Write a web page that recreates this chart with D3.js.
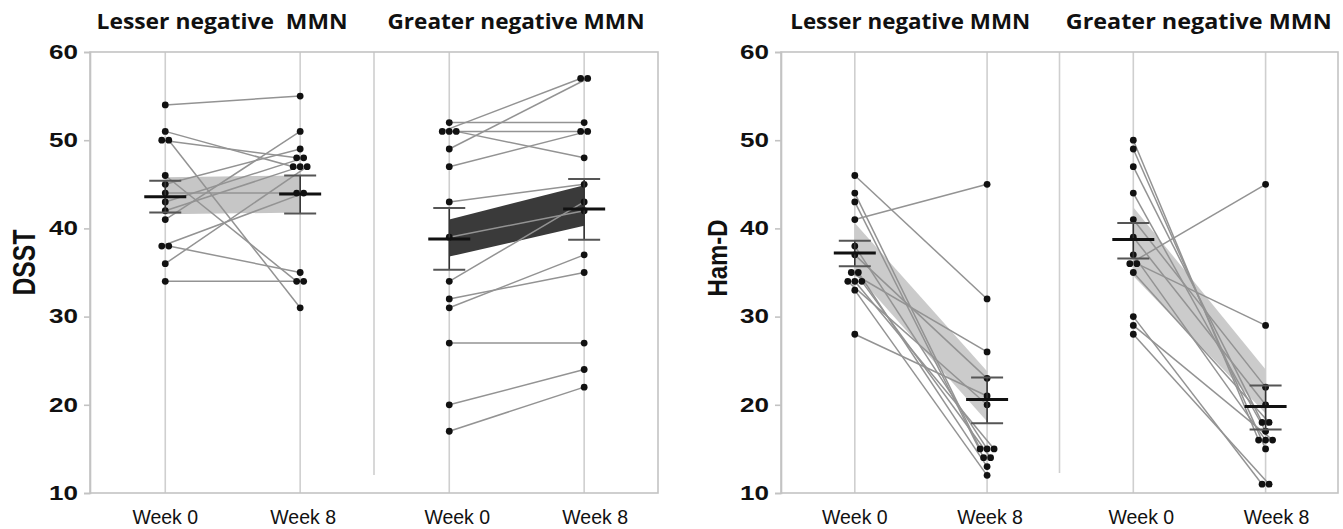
<!DOCTYPE html>
<html>
<head>
<meta charset="utf-8">
<script src="https://cdn.jsdelivr.net/npm/d3@7"></script>
<style>
  html, body { margin: 0; padding: 0; background: #fff; }
  svg { display: block; }
</style>
</head>
<body>
<div id="chart"></div>
<script>
/* Paired week 0 -> week 8 scores, split by MMN group.
   Same index in a W0/W8 pair of arrays = same subject. */

const weeks  = ["Week 0", "Week 8"];
const yTicks = [10, 20, 30, 40, 50, 60];

const dsstTitles = ["Lesser negative  MMN", "Greater negative MMN"];
const hamdTitles = ["Lesser negative MMN", "Greater negative MMN"];

// DSST
const dsstLesserW0  = [54, 51, 50, 50, 46, 45, 44, 43, 42, 41, 38, 38, 36, 34];
const dsstLesserW8  = [55, 47, 48, 31, 34, 49, 44, 48, 47, 51, 44, 35, 47, 34];
const dsstGreaterW0 = [52, 51, 49, 51, 51, 47, 43, 39, 34, 32, 31, 27, 20, 17];
const dsstGreaterW8 = [52, 57, 57, 51, 48, 51, 45, 42, 43, 35, 37, 27, 24, 22];

// Ham-D
const hamdLesserW0  = [46, 44, 43, 41, 38, 37, 35, 35, 34, 34, 34, 33, 28];
const hamdLesserW8  = [32, 15, 14, 45, 15, 23, 26, 13, 20, 15, 14, 12, 21];
const hamdGreaterW0 = [50, 49, 47, 44, 41, 39, 37, 36, 36, 35, 30, 29, 28];
const hamdGreaterW8 = [16, 15, 18, 17, 22, 20, 16, 45, 29, 18, 11, 16, 11];

// group summaries, [week 0, week 8]
const dsstLesserMean   = [43.6, 43.9];
const dsstLesserErrLo  = [41.8, 41.7];
const dsstLesserErrHi  = [45.4, 46.0];
const dsstLesserBandLo = [41.6, 41.8];
const dsstLesserBandHi = [45.8, 46.0];

const dsstGreaterMean   = [38.8, 42.2];
const dsstGreaterErrLo  = [35.3, 38.7];
const dsstGreaterErrHi  = [42.3, 45.6];
const dsstGreaterBandLo = [36.8, 40.3];
const dsstGreaterBandHi = [41.0, 44.9];

const hamdLesserMean   = [37.2, 20.6];
const hamdLesserErrLo  = [35.7, 17.9];
const hamdLesserErrHi  = [38.6, 23.1];
const hamdLesserBandLo = [35.0, 18.1];
const hamdLesserBandHi = [40.6, 23.8];

const hamdGreaterMean   = [38.75, 19.8];
const hamdGreaterErrLo  = [36.6, 17.2];
const hamdGreaterErrHi  = [40.6, 22.2];
const hamdGreaterBandLo = [34.6, 19.0];
const hamdGreaterBandHi = [42.4, 24.0];

function grp(w0, w8, mean, errLo, errHi, bandLo, bandHi, bandFill) {
  return { w0, w8, mean, errLo, errHi, bandLo, bandHi, bandFill };
}

const panels = [
  {
    label: "DSST", titles: dsstTitles, left: 90, width: 568, sepBottom: 475,
    labelX: 23.5, labelY: 262.5, labelSize: 31, labelLen: 66,
    titleLen: [251, 257],
    groups: [
      grp(dsstLesserW0, dsstLesserW8, dsstLesserMean, dsstLesserErrLo, dsstLesserErrHi,
          dsstLesserBandLo, dsstLesserBandHi, "#c6c6c6"),
      grp(dsstGreaterW0, dsstGreaterW8, dsstGreaterMean, dsstGreaterErrLo, dsstGreaterErrHi,
          dsstGreaterBandLo, dsstGreaterBandHi, "#3a3a3a")
    ]
  },
  {
    label: "Ham-D", titles: hamdTitles, left: 781, width: 557, sepBottom: 473,
    labelX: 717, labelY: 258, labelSize: 28, labelLen: 77,
    titleLen: [240, 266],
    groups: [
      grp(hamdLesserW0, hamdLesserW8, hamdLesserMean, hamdLesserErrLo, hamdLesserErrHi,
          hamdLesserBandLo, hamdLesserBandHi, "#cbcbcb"),
      grp(hamdGreaterW0, hamdGreaterW8, hamdGreaterMean, hamdGreaterErrLo, hamdGreaterErrHi,
          hamdGreaterBandLo, hamdGreaterBandHi, "#cbcbcb")
    ]
  }
];

const W = 1343, H = 529;
const TOP = 52, BOTTOM = 493;
const FRAME = "#c3c3c3";

const svg = d3.select("#chart").append("svg")
  .attr("width", W).attr("height", H)
  .attr("viewBox", `0 0 ${W} ${H}`);

const y = d3.scaleLinear().domain([10, 60]).range([BOTTOM, TOP]);

// side-by-side offset for tied values (JMP-style dodge)
function dodge(values, step) {
  const seen = {};
  const counts = d3.rollup(values, v => v.length, d => d);
  return values.map(v => {
    const k = seen[v] = (seen[v] ?? -1) + 1;
    return (k - (counts.get(v) - 1) / 2) * step;
  });
}

panels.forEach(p => {
  const gx = d3.scaleBand().domain([0, 1]).range([p.left, p.left + p.width]);
  const wx = d3.scalePoint().domain(weeks).range([0.265, 0.74]);
  const xPos = (gi, w) => gx(gi) + wx(w) * gx.bandwidth();

  const g = svg.append("g");

  // week gridlines
  [0, 1].forEach(gi => weeks.forEach(w => {
    g.append("line")
      .attr("x1", xPos(gi, w)).attr("x2", xPos(gi, w))
      .attr("y1", y(60)).attr("y2", y(10))
      .attr("stroke", "#cfcfcf").attr("stroke-width", 1.6);
  }));

  // group separator (stops short of the bottom axis)
  g.append("line")
    .attr("x1", gx(1)).attr("x2", gx(1))
    .attr("y1", y(60)).attr("y2", p.sepBottom)
    .attr("stroke", "#cfcfcf").attr("stroke-width", 1.6);

  // frame
  g.append("rect")
    .attr("x", p.left).attr("y", TOP)
    .attr("width", p.width).attr("height", BOTTOM - TOP)
    .attr("fill", "none").attr("stroke", FRAME).attr("stroke-width", 1.6);

  // y axis
  g.append("g")
    .attr("transform", `translate(${p.left},0)`)
    .call(d3.axisLeft(y).tickValues(yTicks).tickSize(6).tickPadding(6))
    .call(a => a.select(".domain").attr("stroke", FRAME).attr("stroke-width", 1.6))
    .call(a => a.selectAll(".tick line").attr("stroke", FRAME).attr("stroke-width", 1.6))
    .call(a => a.selectAll(".tick text")
      .attr("fill", "#111")
      .attr("font-family", "'Liberation Sans', Arial, sans-serif")
      .attr("font-weight", "bold").attr("font-size", 19.5)
      .attr("textLength", 29).attr("lengthAdjust", "spacingAndGlyphs"));

  // axis title
  svg.append("text")
    .attr("transform", `translate(${p.labelX},${p.labelY}) rotate(-90)`)
    .attr("text-anchor", "middle").attr("dy", "0.36em")
    .attr("font-family", "'Liberation Sans', Arial, sans-serif")
    .attr("font-weight", "bold").attr("font-size", p.labelSize)
    .attr("textLength", p.labelLen).attr("lengthAdjust", "spacingAndGlyphs")
    .attr("fill", "#111")
    .text(p.label);

  p.groups.forEach((d, gi) => {
    const x0 = xPos(gi, weeks[0]), x8 = xPos(gi, weeks[1]);

    // CI band between the two time points
    const area = d3.area().x(e => e.x).y0(e => y(e.lo)).y1(e => y(e.hi));
    g.append("path")
      .attr("d", area([
        { x: x0, lo: d.bandLo[0], hi: d.bandHi[0] },
        { x: x8, lo: d.bandLo[1], hi: d.bandHi[1] }
      ]))
      .attr("fill", d.bandFill);

    const off0 = dodge(d.w0, 7), off8 = dodge(d.w8, 7);

    // subject lines
    g.selectAll(null).data(d.w0).join("line")
      .attr("x1", (v, i) => x0 + off0[i]).attr("y1", v => y(v))
      .attr("x2", (v, i) => x8 + off8[i]).attr("y2", (v, i) => y(d.w8[i]))
      .attr("stroke", "#939393").attr("stroke-width", 1.5);

    // dots
    [[d.w0, off0, x0], [d.w8, off8, x8]].forEach(([vals, off, cx]) => {
      g.selectAll(null).data(vals).join("circle")
        .attr("cx", (v, i) => cx + off[i]).attr("cy", v => y(v))
        .attr("r", 3.4).attr("fill", "#111");
    });

    // mean + error bars
    [x0, x8].forEach((cx, k) => {
      g.append("line")
        .attr("x1", cx).attr("x2", cx)
        .attr("y1", y(d.errLo[k])).attr("y2", y(d.errHi[k]))
        .attr("stroke", "#333").attr("stroke-width", 1.6);
      [d.errLo[k], d.errHi[k]].forEach(v => {
        g.append("line")
          .attr("x1", cx - 16).attr("x2", cx + 16)
          .attr("y1", y(v)).attr("y2", y(v))
          .attr("stroke", "#555").attr("stroke-width", 2);
      });
      g.append("line")
        .attr("x1", cx - 21).attr("x2", cx + 21)
        .attr("y1", y(d.mean[k])).attr("y2", y(d.mean[k]))
        .attr("stroke", "#111").attr("stroke-width", 3);
    });

    // week labels
    weeks.forEach((w, k) => {
      svg.append("text")
        .attr("x", xPos(gi, w) + gi * 8 + k * 3).attr("y", 524)
        .attr("text-anchor", "middle")
        .attr("font-family", "'Liberation Sans', Arial, sans-serif")
        .attr("font-size", 19.5).attr("fill", "#111")
        .text(w);
    });

    // group title
    const tx = gx(gi) + gx.bandwidth() / 2 + (gi === 0 ? -10 : 0);
    svg.append("text")
      .attr("x", tx).attr("y", 29)
      .attr("text-anchor", "middle")
      .attr("font-family", "'Open Sans', 'Noto Sans', sans-serif")
      .attr("font-weight", "bold").attr("font-size", 22)
      .attr("textLength", p.titleLen[gi]).attr("lengthAdjust", "spacingAndGlyphs")
      .style("white-space", "pre")
      .attr("fill", "#111")
      .text(p.titles[gi]);
  });
});
</script>
</body>
</html>
